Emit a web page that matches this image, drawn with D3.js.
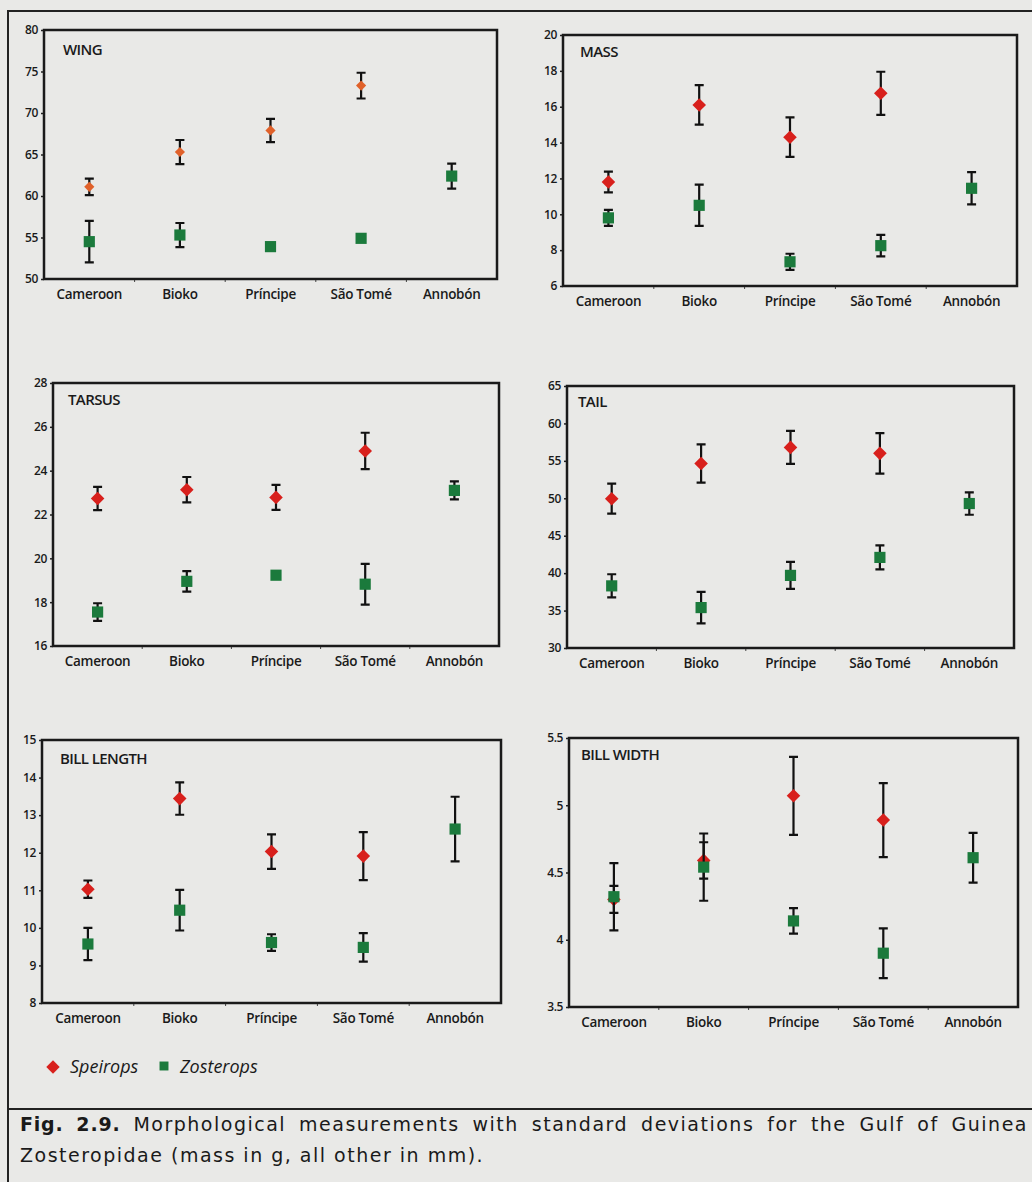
<!DOCTYPE html>
<html>
<head>
<meta charset="utf-8">
<script src="https://cdn.jsdelivr.net/npm/d3@7"></script>
<style>
  body { margin: 0; background: #e9e9e7; }
  svg { display: block; }
  .tick text { font-family: "Open Sans", sans-serif; fill: #1a1a1a; }
</style>
</head>
<body>
<svg id="chart" width="1032" height="1182"></svg>
<script>
const categories = ["Cameroon", "Bioko", "Príncipe", "São Tomé", "Annobón"];

// means and standard deviations (null = not present)
const wingSpeirops = [61.1, 65.3, 67.9, 73.3, null];
const wingSpeiropsSd = [1.0, 1.45, 1.4, 1.55, null];
const wingZosterops = [54.5, 55.3, 53.9, 54.9, 62.4];
const wingZosteropsSd = [2.5, 1.45, 0.3, 0, 1.5];

const massSpeirops = [11.8, 16.1, 14.3, 16.75, null];
const massSpeiropsSd = [0.58, 1.1, 1.1, 1.2, null];
const massZosterops = [9.8, 10.5, 7.35, 8.25, 11.45];
const massZosteropsSd = [0.45, 1.15, 0.45, 0.6, 0.9];

const tarsusSpeirops = [22.73, 23.13, 22.78, 24.9, null];
const tarsusSpeiropsSd = [0.53, 0.58, 0.57, 0.83, null];
const tarsusZosterops = [17.55, 18.95, 19.23, 18.82, 23.1];
const tarsusZosteropsSd = [0.4, 0.47, 0.1, 0.93, 0.41];

const tailSpeirops = [49.95, 54.65, 56.8, 56.0, null];
const tailSpeiropsSd = [2.0, 2.55, 2.2, 2.7, null];
const tailZosterops = [38.3, 35.4, 39.7, 42.1, 49.3];
const tailZosteropsSd = [1.55, 2.1, 1.8, 1.6, 1.5];

const billLengthSpeirops = [11.03, 13.44, 12.03, 11.91, null];
const billLengthSpeiropsSd = [0.23, 0.43, 0.46, 0.64, null];
const billLengthZosterops = [9.57, 10.47, 9.61, 9.48, 12.63];
const billLengthZosteropsSd = [0.43, 0.54, 0.22, 0.38, 0.86];

const billWidthSpeirops = [4.30, 4.59, 5.07, 4.89, null];
const billWidthSpeiropsSd = [0.10, 0.135, 0.29, 0.275, null];
const billWidthZosterops = [4.32, 4.54, 4.14, 3.90, 4.61];
const billWidthZosteropsSd = [0.25, 0.25, 0.095, 0.185, 0.185];

const wingTicks = [50, 55, 60, 65, 70, 75, 80];
const massTicks = [6, 8, 10, 12, 14, 16, 18, 20];
const tarsusTicks = [16, 18, 20, 22, 24, 26, 28];
const tailTicks = [30, 35, 40, 45, 50, 55, 60, 65];
const billLengthTicks = [8, 9, 10, 11, 12, 13, 14, 15];
const billWidthTicks = [3.5, 4, 4.5, 5, 5.5];

const speiropsColor = "#d8201c", wingSpeiropsColor = "#e0612a", zosteropsColor = "#1b7a3c";

const panels = [
  { title: "WING", sp: wingSpeirops, spSd: wingSpeiropsSd, zo: wingZosterops, zoSd: wingZosteropsSd,
    ticks: wingTicks, box: [44, 30, 497, 279], titleAt: [19, 25], spColor: wingSpeiropsColor, diamond: 52 },
  { title: "MASS", sp: massSpeirops, spSd: massSpeiropsSd, zo: massZosterops, zoSd: massZosteropsSd,
    ticks: massTicks, box: [563, 35, 1017, 286], titleAt: [17, 22] },
  { title: "TARSUS", sp: tarsusSpeirops, spSd: tarsusSpeiropsSd, zo: tarsusZosterops, zoSd: tarsusZosteropsSd,
    ticks: tarsusTicks, box: [53, 383, 499, 646], titleAt: [15, 22] },
  { title: "TAIL", sp: tailSpeirops, spSd: tailSpeiropsSd, zo: tailZosterops, zoSd: tailZosteropsSd,
    ticks: tailTicks, box: [567, 386, 1014, 648], titleAt: [11, 21] },
  { title: "BILL LENGTH", sp: billLengthSpeirops, spSd: billLengthSpeiropsSd, zo: billLengthZosterops, zoSd: billLengthZosteropsSd,
    ticks: billLengthTicks, box: [42, 740, 501, 1003], titleAt: [18, 24] },
  { title: "BILL WIDTH", sp: billWidthSpeirops, spSd: billWidthSpeiropsSd, zo: billWidthZosterops, zoSd: billWidthZosteropsSd,
    ticks: billWidthTicks, box: [569, 738, 1018, 1007], titleAt: [12, 22] }
];

const svg = d3.select("#chart");

// frame around the figure and caption rule
svg.append("path")
  .attr("d", "M1032,11 H8 V1182 M8,1109 H1032")
  .attr("fill", "none").attr("stroke", "#222").attr("stroke-width", 2);

function drawPanel(p) {
  const [x0, y0, x1, y1] = p.box, w = x1 - x0, h = y1 - y0;
  const g = svg.append("g").attr("transform", `translate(${x0},${y0})`);

  const x = d3.scaleBand().domain(categories).range([0, w]);
  const y = d3.scaleLinear().domain(d3.extent(p.ticks)).range([h, 0]);

  const yAxis = g.append("g")
    .call(d3.axisLeft(y).tickValues(p.ticks).tickSize(3).tickPadding(3).tickFormat(d3.format("~g")));
  yAxis.select(".domain").remove();
  yAxis.selectAll(".tick line").attr("stroke", "#222").attr("stroke-width", 1.5);
  yAxis.selectAll(".tick text").attr("font-size", 12).attr("font-weight", 600).attr("letter-spacing", -0.4);

  const xAxis = g.append("g").attr("transform", `translate(0,${h})`)
    .call(d3.axisBottom(x).tickSize(0).tickPadding(10));
  xAxis.select(".domain").remove();
  xAxis.selectAll(".tick text").attr("font-size", 13.5).attr("font-weight", 600).attr("letter-spacing", -0.3);

  // little ticks between the categories
  g.selectAll(".sep").data(categories.slice(1)).join("line")
    .attr("x1", d => x(d)).attr("x2", d => x(d))
    .attr("y1", h).attr("y2", h + 3)
    .attr("stroke", "#444").attr("stroke-width", 1);

  g.append("rect").attr("width", w).attr("height", h)
    .attr("fill", "none").attr("stroke", "#1a1a1a").attr("stroke-width", 2.5);

  g.append("text").attr("x", p.titleAt[0]).attr("y", p.titleAt[1])
    .attr("font-family", "Open Sans, sans-serif").attr("font-size", 15).attr("font-weight", 600)
    .attr("letter-spacing", -0.6).attr("fill", "#1a1a1a").text(p.title);

  const series = [
    { vals: p.sp, sd: p.spSd, kind: "sp" },
    { vals: p.zo, sd: p.zoSd, kind: "zo" }
  ];

  series.forEach(s => {
    const pts = categories.map((c, i) => ({ c, m: s.vals[i], sd: s.sd[i] })).filter(d => d.m != null);
    const cx = d => x(d.c) + x.bandwidth() / 2;

    const bars = g.append("g").attr("stroke", "#111").attr("stroke-width", 2.2).attr("fill", "none");
    bars.selectAll("path").data(pts.filter(d => d.sd > 0)).join("path")
      .attr("d", d => {
        const top = y(d.m + d.sd), bot = y(d.m - d.sd), c = cx(d);
        return `M${c},${top}V${bot}M${c - 4.5},${top}H${c + 4.5}M${c - 4.5},${bot}H${c + 4.5}`;
      });

    const sym = s.kind === "sp"
      ? d3.symbol(d3.symbolSquare, p.diamond || 92)
      : d3.symbol(d3.symbolSquare, 125);
    g.append("g").selectAll("path").data(pts).join("path")
      .attr("d", sym)
      .attr("transform", d => `translate(${cx(d)},${y(d.m)})` + (s.kind === "sp" ? " rotate(45)" : ""))
      .attr("fill", s.kind === "sp" ? (p.spColor || speiropsColor) : zosteropsColor);
  });
}

panels.forEach(drawPanel);

// legend
const legend = svg.append("g").attr("font-family", "Open Sans, sans-serif").attr("font-size", 18)
  .attr("font-style", "italic").attr("fill", "#1a1a1a");
legend.append("path").attr("d", d3.symbol(d3.symbolSquare, 90))
  .attr("transform", "translate(53,1067) rotate(45)").attr("fill", speiropsColor);
legend.append("text").attr("x", 70).attr("y", 1073).text("Speirops");
legend.append("path").attr("d", d3.symbol(d3.symbolSquare, 80))
  .attr("transform", "translate(164,1066)").attr("fill", zosteropsColor);
legend.append("text").attr("x", 180).attr("y", 1073).text("Zosterops");

// caption, first line justified
const caption = svg.append("g").attr("font-family", "DejaVu Sans, sans-serif").attr("font-size", 19)
  .attr("letter-spacing", 1.5).attr("fill", "#1a1a1a");
const line1 = caption.append("text").attr("x", 20).attr("y", 1131);
line1.append("tspan").attr("font-weight", "bold").attr("letter-spacing", 0.8).text("Fig. 2.9.");
line1.append("tspan").text(" Morphological measurements with standard deviations for the Gulf of Guinea");
const natural = line1.node().getComputedTextLength();
const gaps = 11;
line1.attr("word-spacing", Math.max(0, (1028 - 20 - natural) / gaps));
caption.append("text").attr("x", 20).attr("y", 1162).text("Zosteropidae (mass in g, all other in mm).");
</script>
</body>
</html>
